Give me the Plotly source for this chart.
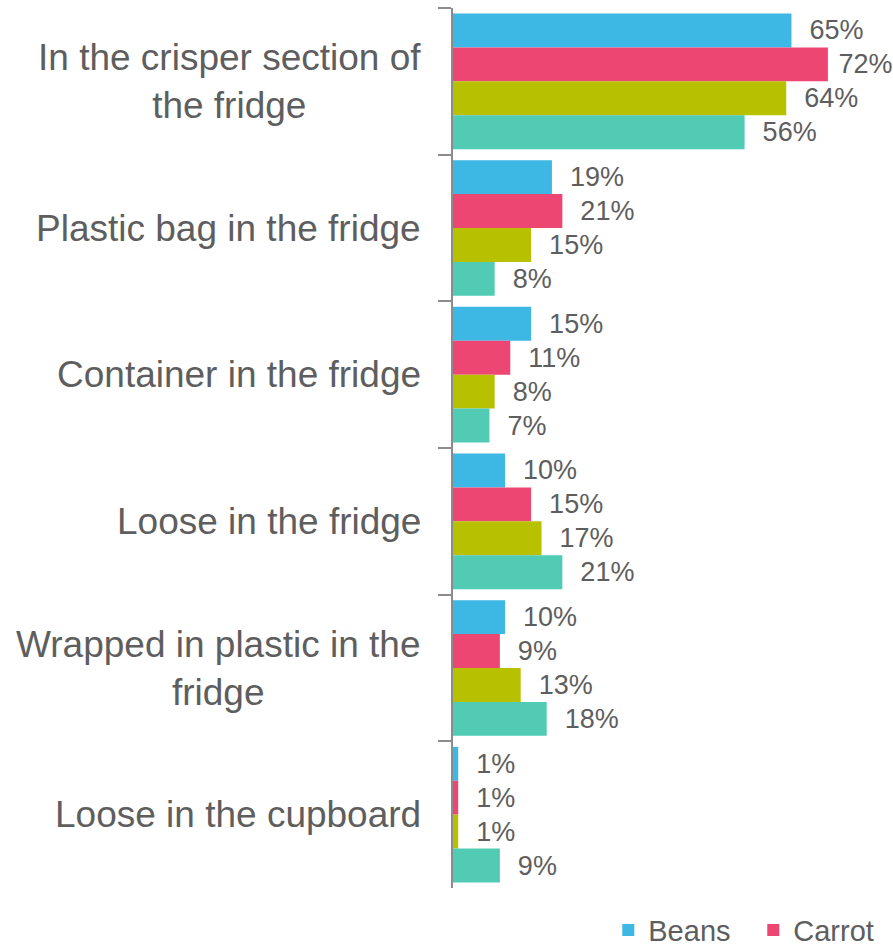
import plotly.graph_objects as go

categories = [
    "In the crisper section of<br>the fridge",
    "Plastic bag in the fridge",
    "Container in the fridge",
    "Loose in the fridge",
    "Wrapped in plastic in the<br>fridge",
    "Loose in the cupboard",
]
series_names = ["Beans", "Carrot", "Series 3", "Series 4"]
beans = [65, 19, 15, 10, 10, 1]
carrot = [72, 21, 11, 15, 9, 1]
series3 = [64, 15, 8, 17, 13, 1]
series4 = [56, 8, 7, 21, 18, 9]
colors = ["#3DB7E4", "#EE4673", "#B8C100", "#52CBB5"]
show_in_legend = [True, True, False, False]

all_vals = beans + carrot + series3 + series4
vmax = max(all_vals)

FONT = "Liberation Sans, Arial"
GREY = "#5E5E5E"

fig = go.Figure()
for name, vals, col, sl in zip(series_names, [beans, carrot, series3, series4], colors, show_in_legend):
    fig.add_trace(go.Bar(
        y=categories, x=vals, name=name, orientation="h",
        marker=dict(color=col, line=dict(width=0)),
        text=[(" " if v == vmax else "  ") + f"{v}%" for v in vals], textposition="outside",
        textfont=dict(family=FONT, size=27, color=GREY),
        cliponaxis=False, showlegend=sl,
    ))

for c in categories:
    fig.add_annotation(x=0, y=c, xref="x", yref="y", text=c, showarrow=False,
                       xanchor="right", align="center", xshift=-30,
                       font=dict(family=FONT, size=37, color=GREY))

fig.update_layout(
    width=893, height=946,
    margin=dict(l=453, r=0, t=8, b=58, autoexpand=False),
    barmode="group", bargap=0.075, bargroupgap=0,
    plot_bgcolor="white", paper_bgcolor="white",
    font=dict(family=FONT, color=GREY),
    legend=dict(orientation="h", x=1.012, xanchor="right", y=-0.048, yanchor="middle",
                font=dict(size=29, color=GREY, family=FONT), itemwidth=30,
                entrywidth=100, traceorder="normal"),
)
fig.update_xaxes(range=[0, 84.5], showgrid=False, showticklabels=False, zeroline=False,
                 showline=False, ticks="")
fig.update_yaxes(autorange="reversed", showgrid=False, showline=True, linecolor="#8C8C8C",
                 linewidth=2, ticks="outside", tickson="boundaries", ticklen=13,
                 tickcolor="#8C8C8C", tickwidth=2, showticklabels=False)

fig.write_html("out.html")
